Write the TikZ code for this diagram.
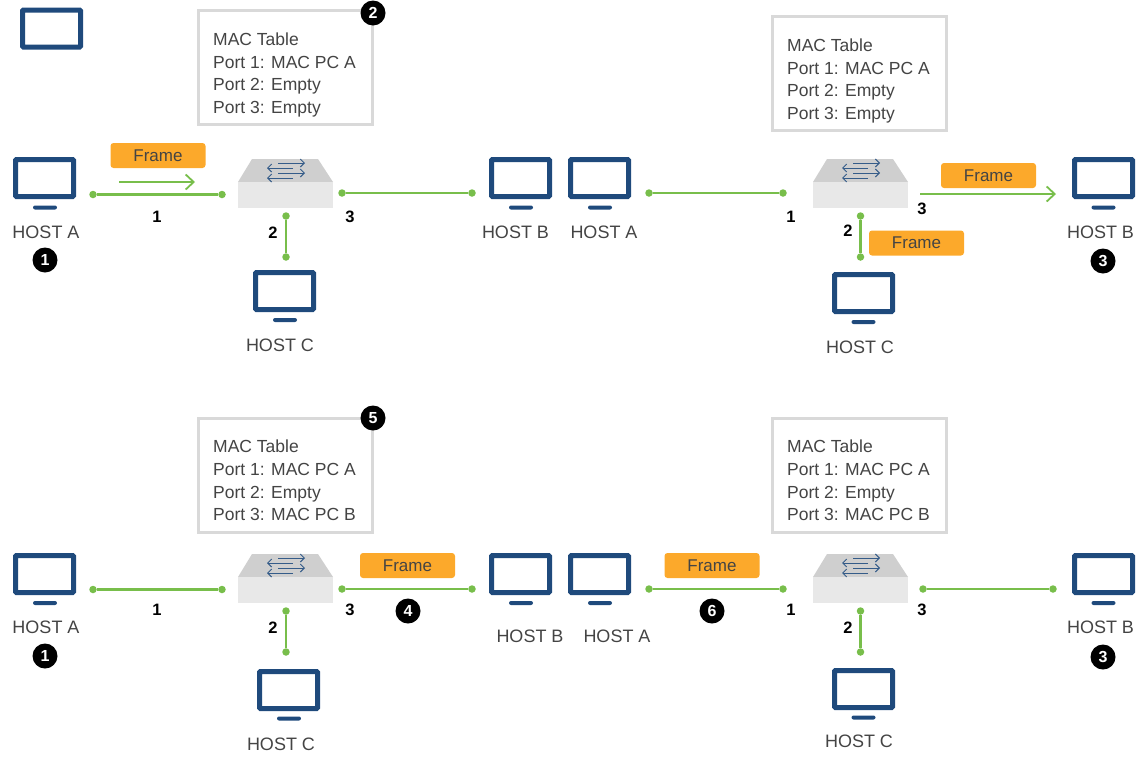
\documentclass[tikz,border=0pt]{standalone}
\usepackage{fontspec}
\setmainfont{Liberation Sans}
\usetikzlibrary{arrows.meta}

\definecolor{hostblue}{HTML}{1F4A7C}
\definecolor{linkgreen}{HTML}{78BE4B}
\definecolor{frameorange}{HTML}{FCA92B}
\definecolor{textgray}{HTML}{444444}

\tikzset{
	screen/.style={shape=rectangle, draw=hostblue, line width=5pt, rounded corners=1pt, fill=white, minimum width=58pt, minimum height=37pt, inner sep=0pt},
	stand/.style={shape=rectangle, fill=hostblue, rounded corners=2pt, minimum width=24pt, minimum height=4pt, inner sep=0pt},
	hostlabel/.style={text=textgray, font=\fontsize{18}{20}\selectfont, inner sep=0pt},
	framebox/.style={shape=rectangle, fill=frameorange, rounded corners=3pt, minimum width=95pt, minimum height=25pt, inner sep=0pt, text=textgray, font=\fontsize{17}{20}\selectfont},
	tablebox/.style={shape=rectangle, draw=black!15, line width=2.2pt, fill=white, minimum width=174pt, minimum height=114pt, inner sep=0pt},
	tabletext/.style={anchor=west, align=left, inner sep=0pt, text=textgray, font=\fontsize{17.5}{22.7}\selectfont},
	dot/.style={shape=circle, fill=linkgreen, minimum size=7.5pt, inner sep=0pt},
	link/.style={draw=linkgreen, line width=2.2pt},
	flow/.style={draw=linkgreen, line width=1.8pt, -{Straight Barb[length=8pt, width=15pt, line width=1.8pt]}},
	port/.style={inner sep=0pt, text=black, font=\fontsize{16.5}{17}\selectfont\bfseries},
	badge/.style={shape=circle, fill=black, minimum size=25pt, inner sep=0pt, text=white, font=\fontsize{16}{16}\selectfont\bfseries},
	swfront/.style={shape=rectangle, fill=black!9, minimum width=95pt, minimum height=26pt, inner sep=0pt},
	swarrow/.style={draw=hostblue!90, line width=1pt, -{Straight Barb[length=4pt, width=8pt, line width=1pt]}},
	switch/.pic={
		\fill[black!19] (-47.5,-13) -- (-33.5,-36) -- (32.5,-36) -- (47.5,-13) -- cycle;
		\node[swfront] (-front) at (0,0) {};
		\path[swarrow] (-7.5,-32) -- (19.5,-32);
		\path[swarrow] (7.5,-27) -- (-18.5,-27);
		\path[swarrow] (-7.5,-22) -- (19.5,-22);
		\path[swarrow] (7.5,-17) -- (-18.5,-17);
	}
}

\begin{document}
\begin{tikzpicture}[x=1pt, y=-1pt]
	\useasboundingbox (0,0) rectangle (1146,766);

	% loose screen, top left
	\node[screen] (loose) at (51.5,28.5) {};

	% top left
	\node[screen] (hostA1) at (44.5,178) {};
	\node[stand] (standA1) at (45,207.5) {};
	\node[hostlabel] (labelA1) at (46,232) {HOST A};
	\node[badge] (badgeA1) at (45,260) {1};
	\node[framebox] (frameA1) at (158,155.5) {Frame};
	\coordinate (flowA1s) at (119,182);
	\coordinate (flowA1e) at (195,182);
	\path [flow] (flowA1s) -- (flowA1e);
	\node[dot] (dotA1) at (93,194.5) {};
	\node[dot] (dotS1w) at (222,194.5) {};
	\node[port] (portA1) at (157,217) {1};
	\pic (sw1) at (285.5,195) {switch};
	\node[dot] (dotS1s) at (286,216) {};
	\node[dot] (dotC1) at (286,257) {};
	\node[port] (portC1) at (273,233) {2};
	\node[screen] (hostC1) at (284.5,291) {};
	\node[stand] (standC1) at (285,320) {};
	\node[hostlabel] (labelC1) at (280,345) {HOST C};
	\node[dot] (dotS1e) at (342,193) {};
	\node[dot] (dotB1) at (472,193) {};
	\node[port] (portB1) at (350,217) {3};
	\node[screen] (hostB1) at (520.5,178) {};
	\node[stand] (standB1) at (521,207.5) {};
	\node[hostlabel] (labelB1) at (515.5,232) {HOST B};
	\node[tablebox] (table1) at (285.5,67.5) {};
	\node[tabletext] (text1) at (213,75) {MAC Table\\Port 1: MAC PC A\\Port 2: Empty\\Port 3: Empty};
	\node[badge] (badge2) at (373,13) {2};
	\path [-, link] (dotA1) edge (dotS1w);
	\path [-, link] (dotS1s) edge (dotC1);
	\path [-, link] (dotS1e) edge (dotB1);

	% top right
	\node[screen] (hostA2) at (599.5,178) {};
	\node[stand] (standA2) at (600,207.5) {};
	\node[hostlabel] (labelA2) at (604,232) {HOST A};
	\node[dot] (dotA2) at (649,193) {};
	\node[dot] (dotS2w) at (783,193) {};
	\node[port] (portA2) at (791,217) {1};
	\pic (sw2) at (860.5,195) {switch};
	\node[dot] (dotS2s) at (860.5,216) {};
	\node[dot] (dotC2) at (860.5,257) {};
	\node[port] (portC2) at (848,231) {2};
	\node[framebox] (frameC2) at (916.5,243) {Frame};
	\node[screen] (hostC2) at (863.5,293) {};
	\node[stand] (standC2) at (863.5,322) {};
	\node[hostlabel] (labelC2) at (860,347) {HOST C};
	\node[framebox] (frameB2) at (988.5,175.5) {Frame};
	\coordinate (flowB2s) at (920,194);
	\coordinate (flowB2e) at (1056,194);
	\path [flow] (flowB2s) -- (flowB2e);
	\node[port] (portB2) at (922,209) {3};
	\node[screen] (hostB2) at (1103.5,178) {};
	\node[stand] (standB2) at (1103.5,207.5) {};
	\node[hostlabel] (labelB2) at (1100.5,232) {HOST B};
	\node[badge] (badgeB2) at (1103,261) {3};
	\node[tablebox] (table2) at (859.5,73.5) {};
	\node[tabletext] (text2) at (787,81) {MAC Table\\Port 1: MAC PC A\\Port 2: Empty\\Port 3: Empty};
	\path [-, link] (dotA2) edge (dotS2w);
	\path [-, link] (dotS2s) edge (dotC2);

	% bottom left
	\node[screen] (hostA3) at (44.5,574) {};
	\node[stand] (standA3) at (45,603) {};
	\node[hostlabel] (labelA3) at (46,627) {HOST A};
	\node[badge] (badgeA3) at (45,656) {1};
	\node[dot] (dotA3) at (93,589.5) {};
	\node[dot] (dotS3w) at (222,589.5) {};
	\node[port] (portA3) at (157,610) {1};
	\pic (sw3) at (285.5,590) {switch};
	\node[dot] (dotS3s) at (286,611) {};
	\node[dot] (dotC3) at (286,652) {};
	\node[port] (portC3) at (273,628) {2};
	\node[screen] (hostC3) at (288.5,690) {};
	\node[stand] (standC3) at (289,718.5) {};
	\node[hostlabel] (labelC3) at (281,744) {HOST C};
	\node[dot] (dotS3e) at (342,589) {};
	\node[dot] (dotB3) at (472,589) {};
	\node[port] (portB3) at (350,610) {3};
	\node[framebox] (frameB3) at (407.5,565.5) {Frame};
	\node[badge] (badge4) at (408,611) {4};
	\node[screen] (hostB3) at (520.5,574) {};
	\node[stand] (standB3) at (521,603) {};
	\node[hostlabel] (labelB3) at (530,636) {HOST B};
	\node[tablebox] (table3) at (285.5,475.5) {};
	\node[tabletext] (text3) at (213,480.5) {MAC Table\\Port 1: MAC PC A\\Port 2: Empty\\Port 3: MAC PC B};
	\node[badge] (badge5) at (373,418) {5};
	\path [-, link] (dotA3) edge (dotS3w);
	\path [-, link] (dotS3s) edge (dotC3);
	\path [-, link] (dotS3e) edge (dotB3);

	% bottom right
	\node[screen] (hostA4) at (599.5,574) {};
	\node[stand] (standA4) at (600,603) {};
	\node[hostlabel] (labelA4) at (617,636) {HOST A};
	\node[dot] (dotA4) at (649,589) {};
	\node[dot] (dotS4w) at (783,589) {};
	\node[framebox] (frameA4) at (712,565.5) {Frame};
	\node[badge] (badge6) at (712,611) {6};
	\node[port] (portA4) at (791,610) {1};
	\pic (sw4) at (860.5,590) {switch};
	\node[dot] (dotS4s) at (860.5,611) {};
	\node[dot] (dotC4) at (860.5,652) {};
	\node[port] (portC4) at (848,628) {2};
	\node[screen] (hostC4) at (863.5,689) {};
	\node[stand] (standC4) at (863.5,717.5) {};
	\node[hostlabel] (labelC4) at (859,741) {HOST C};
	\node[dot] (dotS4e) at (923,589) {};
	\node[dot] (dotB4) at (1053,589) {};
	\node[port] (portB4) at (922,610) {3};
	\node[screen] (hostB4) at (1103.5,574) {};
	\node[stand] (standB4) at (1103.5,603) {};
	\node[hostlabel] (labelB4) at (1100.5,627) {HOST B};
	\node[badge] (badgeB4) at (1103,657) {3};
	\node[tablebox] (table4) at (859.5,475.5) {};
	\node[tabletext] (text4) at (787,480.5) {MAC Table\\Port 1: MAC PC A\\Port 2: Empty\\Port 3: MAC PC B};
	\path [-, link] (dotA4) edge (dotS4w);
	\path [-, link] (dotS4s) edge (dotC4);
	\path [-, link] (dotS4e) edge (dotB4);
\end{tikzpicture}
\end{document}
